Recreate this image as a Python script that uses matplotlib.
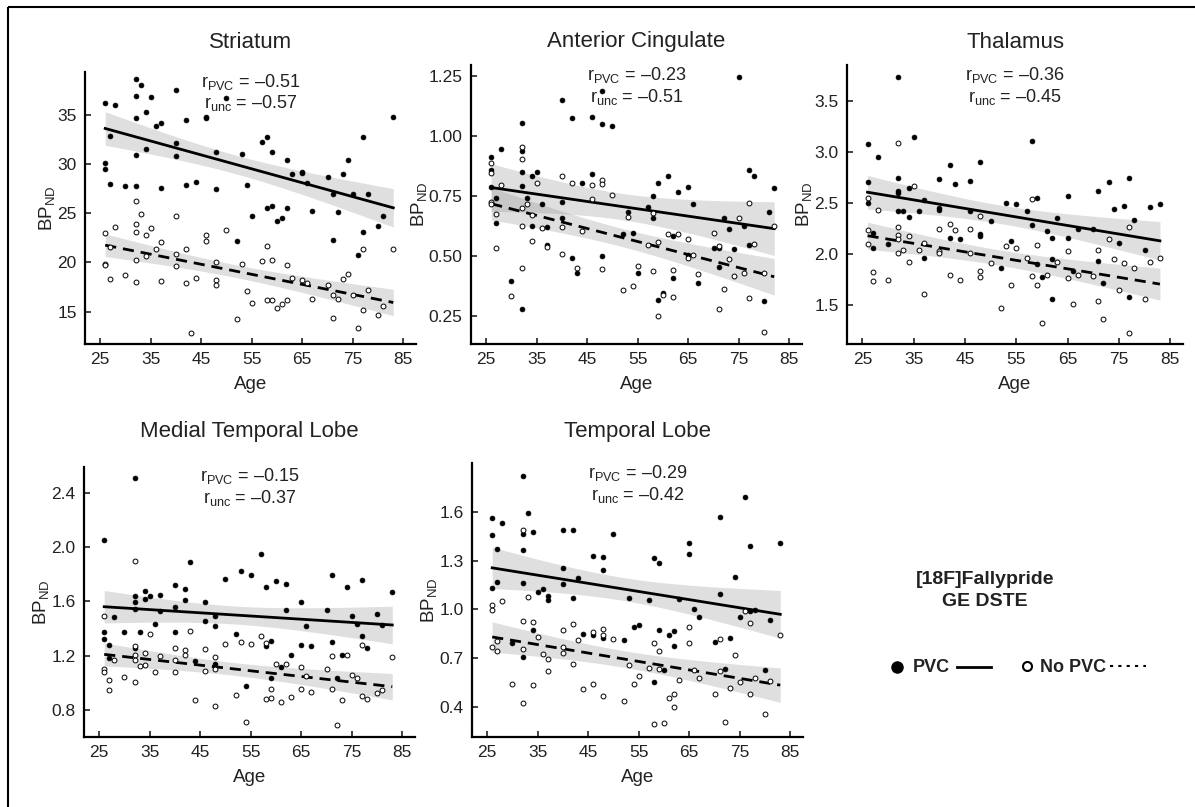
import matplotlib
matplotlib.use("Agg")
import matplotlib.pyplot as plt
from matplotlib.patches import Rectangle
from matplotlib.lines import Line2D
import numpy as np

plt.rcParams['font.family'] = ['Liberation Sans', 'DejaVu Sans']
plt.rcParams['mathtext.fontset'] = 'custom'
plt.rcParams['mathtext.rm'] = 'Liberation Sans'
plt.rcParams['mathtext.it'] = 'Liberation Sans'

# ---- data: (age, BPnd) for PVC (filled) and no PVC (open) ----
str_age_pvc = [26, 26, 26, 27, 27, 28, 30, 32, 32, 32, 32, 32, 33, 34, 34, 35, 36, 37, 37, 40, 40, 40, 42, 42, 44, 46, 46, 48, 48, 50, 52, 53, 54, 55, 57, 58, 58, 59, 59, 60, 61, 62, 62, 63, 65, 65, 66, 67, 70, 71, 71, 72, 73, 74, 75, 76, 77, 77, 78, 80, 81, 83]
str_pvc = [36.2, 30.1, 29.5, 32.9, 28.0, 36.0, 27.8, 38.7, 37.0, 34.7, 30.9, 27.8, 38.1, 35.3, 31.6, 36.9, 33.9, 34.2, 27.6, 37.6, 32.2, 30.8, 34.5, 27.9, 28.2, 34.8, 34.7, 31.3, 27.5, 36.8, 22.2, 31.1, 27.9, 24.7, 32.3, 32.8, 25.6, 25.8, 31.3, 24.2, 24.5, 30.4, 25.5, 29.0, 29.2, 29.1, 28.1, 25.2, 28.7, 27.0, 22.3, 25.1, 29.0, 30.4, 27.0, 20.8, 32.8, 23.1, 27.0, 23.7, 24.7, 34.8]
str_age_unc = [26, 26, 26, 27, 27, 28, 30, 32, 32, 32, 32, 32, 33, 34, 34, 35, 36, 37, 37, 40, 40, 40, 42, 42, 43, 44, 46, 46, 48, 48, 48, 50, 52, 53, 54, 55, 57, 58, 58, 59, 59, 60, 61, 62, 62, 63, 65, 66, 67, 70, 71, 71, 72, 73, 74, 75, 76, 77, 77, 78, 80, 81, 83]
str_unc = [23.0, 19.8, 19.7, 21.6, 18.3, 23.6, 18.7, 26.3, 23.9, 23.1, 20.3, 18.0, 24.9, 22.8, 20.7, 23.5, 21.4, 22.1, 18.1, 24.7, 20.9, 19.6, 21.4, 17.9, 12.8, 18.4, 22.8, 22.2, 20.1, 18.2, 17.7, 23.3, 14.2, 19.8, 17.1, 15.9, 20.2, 21.7, 16.2, 20.3, 16.2, 15.4, 15.8, 19.7, 16.2, 18.4, 18.2, 17.9, 16.3, 17.7, 16.7, 14.3, 16.3, 18.3, 18.8, 16.7, 13.3, 21.4, 15.2, 17.2, 14.7, 15.6, 21.4]

ac_age_pvc = [26, 26, 26, 27, 27, 28, 30, 32, 32, 32, 32, 32, 33, 34, 34, 35, 36, 37, 37, 40, 40, 40, 42, 42, 43, 44, 46, 46, 48, 48, 48, 50, 52, 53, 54, 55, 57, 58, 58, 59, 59, 60, 61, 62, 62, 63, 65, 65, 66, 67, 70, 71, 71, 72, 73, 74, 75, 76, 77, 77, 78, 80, 81, 82]
ac_pvc = [0.914, 0.858, 0.789, 0.743, 0.636, 0.944, 0.396, 1.053, 0.938, 0.851, 0.792, 0.278, 0.740, 0.835, 0.626, 0.849, 0.717, 0.619, 0.546, 1.150, 0.724, 0.657, 1.076, 0.493, 0.428, 0.803, 1.081, 0.840, 1.189, 1.049, 0.500, 1.042, 0.590, 0.682, 0.597, 0.428, 0.706, 0.751, 0.657, 0.806, 0.317, 0.344, 0.833, 0.407, 0.585, 0.768, 0.789, 0.504, 0.715, 0.386, 0.532, 0.532, 0.456, 0.657, 0.611, 0.528, 1.247, 0.626, 0.858, 0.546, 0.833, 0.313, 0.685, 0.785]
ac_age_unc = [26, 26, 26, 26, 27, 27, 28, 30, 32, 32, 32, 32, 32, 33, 34, 34, 35, 36, 37, 40, 40, 40, 42, 43, 44, 46, 46, 48, 48, 48, 50, 52, 53, 54, 55, 57, 58, 58, 59, 59, 60, 61, 62, 62, 63, 65, 65, 66, 67, 70, 71, 71, 72, 73, 74, 75, 76, 77, 77, 78, 80, 80, 82]
ac_unc = [0.886, 0.844, 0.726, 0.717, 0.674, 0.532, 0.796, 0.333, 0.956, 0.903, 0.699, 0.626, 0.451, 0.717, 0.671, 0.563, 0.806, 0.618, 0.539, 0.833, 0.622, 0.507, 0.806, 0.451, 0.604, 0.796, 0.736, 0.817, 0.799, 0.446, 0.754, 0.358, 0.664, 0.376, 0.460, 0.546, 0.678, 0.439, 0.560, 0.250, 0.337, 0.590, 0.442, 0.331, 0.590, 0.569, 0.490, 0.504, 0.424, 0.594, 0.542, 0.278, 0.361, 0.486, 0.418, 0.657, 0.431, 0.722, 0.324, 0.550, 0.431, 0.185, 0.625]

th_age_pvc = [26, 26, 26, 27, 27, 28, 30, 32, 32, 32, 32, 32, 33, 34, 34, 35, 36, 37, 37, 40, 40, 40, 42, 42, 43, 44, 46, 46, 48, 48, 48, 50, 52, 53, 54, 55, 57, 58, 58, 59, 59, 60, 61, 62, 62, 62, 63, 65, 65, 66, 67, 70, 71, 71, 72, 73, 74, 75, 76, 77, 77, 78, 80, 81, 83]
th_pvc = [3.076, 2.707, 2.495, 2.208, 2.055, 2.952, 2.097, 3.735, 2.740, 2.619, 2.593, 2.423, 2.423, 2.648, 2.358, 3.148, 2.423, 2.528, 1.957, 2.730, 2.453, 2.430, 2.870, 2.153, 2.684, 2.143, 2.717, 2.423, 2.896, 2.192, 2.179, 2.325, 1.859, 2.495, 2.126, 2.489, 2.423, 3.105, 2.283, 2.551, 1.898, 1.777, 2.224, 2.153, 1.950, 1.565, 2.355, 2.567, 2.162, 1.833, 2.250, 2.241, 2.616, 1.931, 1.712, 2.707, 2.440, 2.110, 2.469, 2.746, 1.582, 2.338, 2.038, 2.456, 2.489]
th_age_unc = [26, 26, 26, 27, 27, 28, 30, 32, 32, 32, 32, 32, 33, 34, 34, 35, 36, 37, 37, 40, 40, 40, 42, 42, 43, 44, 46, 46, 48, 48, 48, 50, 52, 53, 54, 55, 57, 58, 58, 59, 59, 60, 61, 63, 65, 65, 66, 67, 70, 71, 71, 72, 73, 74, 75, 76, 77, 77, 78, 80, 81, 83]
th_unc = [2.544, 2.234, 2.094, 1.826, 1.735, 2.430, 1.751, 3.089, 2.260, 2.185, 2.143, 2.012, 2.038, 2.175, 1.924, 2.665, 2.041, 2.110, 1.608, 2.250, 2.032, 2.006, 2.299, 1.794, 2.234, 1.745, 2.250, 2.012, 2.374, 1.833, 1.771, 1.914, 1.474, 2.077, 1.696, 2.055, 1.957, 2.534, 1.784, 2.087, 1.696, 1.327, 1.794, 1.924, 2.029, 1.761, 1.510, 1.800, 1.787, 2.041, 1.539, 1.363, 2.146, 1.947, 1.653, 1.914, 2.267, 1.232, 1.865, 1.559, 1.918, 1.963]

mtl_age_pvc = [26, 26, 26, 27, 27, 28, 30, 32, 32, 32, 32, 32, 33, 34, 34, 35, 36, 37, 37, 40, 40, 40, 42, 42, 43, 44, 46, 46, 48, 48, 48, 50, 52, 53, 54, 55, 57, 58, 58, 59, 59, 60, 61, 62, 62, 63, 65, 65, 66, 67, 70, 71, 71, 72, 73, 74, 75, 76, 77, 77, 78, 80, 81, 83]
mtl_pvc = [2.055, 1.374, 1.322, 1.280, 1.182, 1.484, 1.374, 2.511, 1.637, 1.593, 1.543, 1.255, 1.374, 1.674, 1.617, 1.642, 1.433, 1.649, 1.531, 1.718, 1.558, 1.374, 1.691, 1.612, 1.890, 1.162, 1.595, 1.457, 1.494, 1.420, 1.137, 1.767, 1.359, 1.826, 0.977, 1.797, 1.952, 1.703, 1.268, 1.310, 1.034, 1.748, 1.113, 1.728, 1.534, 1.201, 1.595, 1.280, 1.415, 1.273, 1.538, 1.792, 1.300, 1.034, 1.206, 1.706, 1.489, 1.433, 1.760, 1.346, 1.255, 1.506, 1.423, 1.666]
mtl_age_unc = [26, 26, 26, 27, 27, 28, 30, 32, 32, 32, 32, 32, 33, 34, 34, 35, 36, 37, 40, 40, 40, 42, 42, 43, 44, 46, 46, 48, 48, 48, 50, 52, 53, 54, 55, 57, 58, 58, 59, 59, 60, 61, 62, 63, 65, 65, 66, 67, 70, 71, 71, 72, 73, 74, 75, 76, 77, 77, 78, 80, 81, 83]
mtl_unc = [1.494, 1.100, 1.076, 1.022, 0.943, 1.169, 1.041, 1.895, 1.273, 1.206, 1.169, 1.002, 1.120, 1.218, 1.127, 1.361, 1.076, 1.199, 1.255, 1.164, 1.076, 1.243, 1.206, 1.383, 0.874, 1.248, 1.083, 1.186, 1.100, 0.825, 1.285, 0.906, 1.297, 0.714, 1.287, 1.346, 1.292, 0.879, 0.953, 0.886, 1.137, 0.857, 1.137, 0.898, 1.113, 0.953, 1.051, 0.930, 1.100, 1.199, 0.955, 0.689, 0.874, 1.206, 1.058, 1.034, 1.280, 0.903, 0.881, 0.923, 0.948, 1.186]

tl_age_pvc = [26, 26, 26, 27, 27, 28, 30, 32, 32, 32, 32, 32, 33, 34, 34, 35, 36, 37, 37, 40, 40, 40, 42, 42, 43, 44, 46, 46, 48, 48, 48, 50, 52, 53, 54, 55, 57, 58, 58, 59, 59, 60, 61, 62, 62, 63, 65, 65, 66, 67, 70, 71, 71, 72, 73, 74, 75, 76, 77, 77, 78, 80, 81, 83]
tl_pvc = [1.559, 1.456, 1.134, 1.370, 1.169, 1.532, 0.790, 1.822, 1.461, 1.364, 1.159, 0.708, 1.590, 1.473, 0.876, 1.104, 1.124, 1.083, 1.056, 1.487, 1.257, 1.155, 1.491, 1.071, 1.190, 0.847, 1.327, 0.841, 1.323, 1.245, 0.825, 1.463, 0.814, 1.067, 0.892, 0.903, 1.056, 1.317, 0.554, 1.288, 0.876, 0.626, 0.845, 0.866, 0.775, 1.063, 1.405, 1.339, 1.005, 0.950, 0.800, 1.565, 1.097, 0.636, 0.825, 1.200, 0.950, 1.688, 1.389, 0.991, 0.995, 0.626, 0.937, 1.405]
tl_age_unc = [26, 26, 26, 27, 27, 28, 30, 32, 32, 32, 32, 33, 34, 34, 35, 36, 37, 37, 40, 40, 40, 42, 42, 43, 44, 46, 46, 48, 48, 48, 50, 52, 53, 54, 55, 57, 58, 58, 59, 59, 60, 61, 62, 62, 63, 65, 65, 66, 67, 70, 71, 71, 72, 73, 74, 75, 76, 77, 77, 78, 80, 81, 83]
tl_unc = [1.026, 0.999, 0.769, 0.804, 0.743, 1.050, 0.540, 1.487, 0.929, 0.759, 0.427, 1.077, 0.923, 0.537, 0.827, 0.728, 0.697, 0.619, 0.876, 0.769, 0.732, 0.909, 0.661, 0.810, 0.509, 0.862, 0.544, 0.882, 0.845, 0.466, 0.816, 0.437, 0.656, 0.544, 0.589, 0.640, 0.790, 0.293, 0.743, 0.636, 0.302, 0.455, 0.478, 0.400, 0.568, 0.892, 0.796, 0.626, 0.579, 0.482, 0.816, 0.622, 0.308, 0.517, 0.722, 0.554, 0.991, 0.917, 0.482, 0.579, 0.355, 0.558, 0.841]

titles = ["Striatum", "Anterior Cingulate", "Thalamus", "Medial Temporal Lobe", "Temporal Lobe"]
r_pvc = ["\u20130.51", "\u20130.23", "\u20130.36", "\u20130.15", "\u20130.29"]
r_unc = ["\u20130.57", "\u20130.51", "\u20130.45", "\u20130.37", "\u20130.42"]
yticks = [[15, 20, 25, 30, 35], [0.25, 0.50, 0.75, 1.00, 1.25], [1.5, 2.0, 2.5, 3.0, 3.5],
          [0.8, 1.2, 1.6, 2.0, 2.4], [0.4, 0.7, 1.0, 1.3, 1.6]]
ytick_fmt = ["%d", "%.2f", "%.1f", "%.1f", "%.1f"]
ylims = [(11.7, 39.4), (0.133, 1.296), (1.12, 3.85), (0.60, 2.59), (0.215, 1.90)]
xticks = [25, 35, 45, 55, 65, 75, 85]

panels = [(str_age_pvc, str_pvc, str_age_unc, str_unc),
          (ac_age_pvc, ac_pvc, ac_age_unc, ac_unc),
          (th_age_pvc, th_pvc, th_age_unc, th_unc),
          (mtl_age_pvc, mtl_pvc, mtl_age_unc, mtl_unc),
          (tl_age_pvc, tl_pvc, tl_age_unc, tl_unc)]

W, H = 1195, 807
# axes boxes in pixels: left, top, right, bottom
boxes = [(85, 72, 416, 344), (471, 65, 802, 344), (847, 65, 1183, 344),
         (84, 467, 415, 737), (472, 463, 803, 737)]
title_y = [42, 42, 42, 432, 432]


def fit_band(x, y, xs):
    x = np.asarray(x, float)
    y = np.asarray(y, float)
    b, a = np.polyfit(x, y, 1)
    resid = y - (a + b * x)
    n = len(x)
    s = np.sqrt(np.sum(resid ** 2) / (n - 2))
    sxx = np.sum((x - x.mean()) ** 2)
    se = s * np.sqrt(1.0 / n + (xs - x.mean()) ** 2 / sxx)
    yfit = a + b * xs
    return yfit, yfit - 1.99 * se, yfit + 1.99 * se


fig = plt.figure(figsize=(W / 100, H / 100), dpi=100)

for i, (xp, yp, xu, yu) in enumerate(panels):
    l, t, r, b = boxes[i]
    ax = fig.add_axes([l / W, 1 - b / H, (r - l) / W, (b - t) / H])
    for xx, yy, ls in [(xp, yp, '-'), (xu, yu, (0, (4, 2.5)))]:
        xs = np.linspace(min(xx), max(xx), 100)
        yfit, lo, hi = fit_band(xx, yy, xs)
        ax.fill_between(xs, lo, hi, color='0.55', alpha=0.28, lw=0, zorder=1)
        ax.plot(xs, yfit, color='k', lw=2, ls=ls, zorder=3)
    ax.plot(xp, yp, 'o', ms=3.5, mfc='k', mec='k', mew=0.5, zorder=4)
    ax.plot(xu, yu, 'o', ms=3.5, mfc='white', mec='k', mew=0.7, zorder=4)
    ax.set_xlim(22, 87.5)
    ax.set_ylim(*ylims[i])
    ax.set_xticks(xticks)
    ax.set_yticks(yticks[i])
    ax.set_yticklabels([ytick_fmt[i] % v for v in yticks[i]])
    for s in ['top', 'right']:
        ax.spines[s].set_visible(False)
    for s in ['left', 'bottom']:
        ax.spines[s].set_linewidth(1.6)
    ax.tick_params(direction='in', length=4, width=1.2, labelsize=12.5, pad=6,
                   colors='#222222', labelcolor='#222222')
    ax.set_xlabel("Age", fontsize=13.5, labelpad=6, color='#222222')
    ax.set_ylabel(r"BP$_\mathregular{ND}$", fontsize=13.5, labelpad=0, color='#222222')
    ax.text(0.5, 0.965, r"r$_\mathregular{PVC}$ = " + r_pvc[i], transform=ax.transAxes,
            ha='center', va='center', fontsize=13, color='#222222')
    ax.text(0.5, 0.885, r"r$_\mathregular{unc}$ = " + r_unc[i], transform=ax.transAxes,
            ha='center', va='center', fontsize=13, color='#222222')
    fig.text((l + r) / 2 / W, 1 - title_y[i] / H, titles[i], ha='center', va='center',
             fontsize=16, color='#222222')

# overlay in pixel coordinates for frame and legend
ov = fig.add_axes([0, 0, 1, 1], zorder=-1)
ov.set_xlim(0, W)
ov.set_ylim(H, 0)
ov.axis('off')
ov.add_patch(Rectangle((8, 7), W, H, fill=False, lw=1.5, ec='k'))

fig.text(985 / W, 1 - 579 / H, "[18F]Fallypride", ha='center', va='center',
         fontsize=14, fontweight='bold', color='#222222')
fig.text(985 / W, 1 - 601 / H, "GE DSTE", ha='center', va='center',
         fontsize=14, fontweight='bold', color='#222222')
ov.add_line(Line2D([897], [667], marker='o', ms=8, mfc='k', mec='k', ls='none'))
fig.text(913 / W, 1 - 668 / H, "PVC", ha='left', va='center', fontsize=13,
         fontweight='bold', color='#222222')
ov.add_line(Line2D([957, 991], [667, 667], color='k', lw=2))
ov.add_line(Line2D([1027], [666], marker='o', ms=6.5, mfc='white', mec='k', mew=1.5, ls='none'))
fig.text(1040 / W, 1 - 668 / H, "No PVC", ha='left', va='center', fontsize=13,
         fontweight='bold', color='#222222')
ov.add_line(Line2D([1110, 1146], [666, 666], color='k', lw=1.5, ls=(0, (1.5, 2.5))))

fig.savefig("out.png", dpi=100)
